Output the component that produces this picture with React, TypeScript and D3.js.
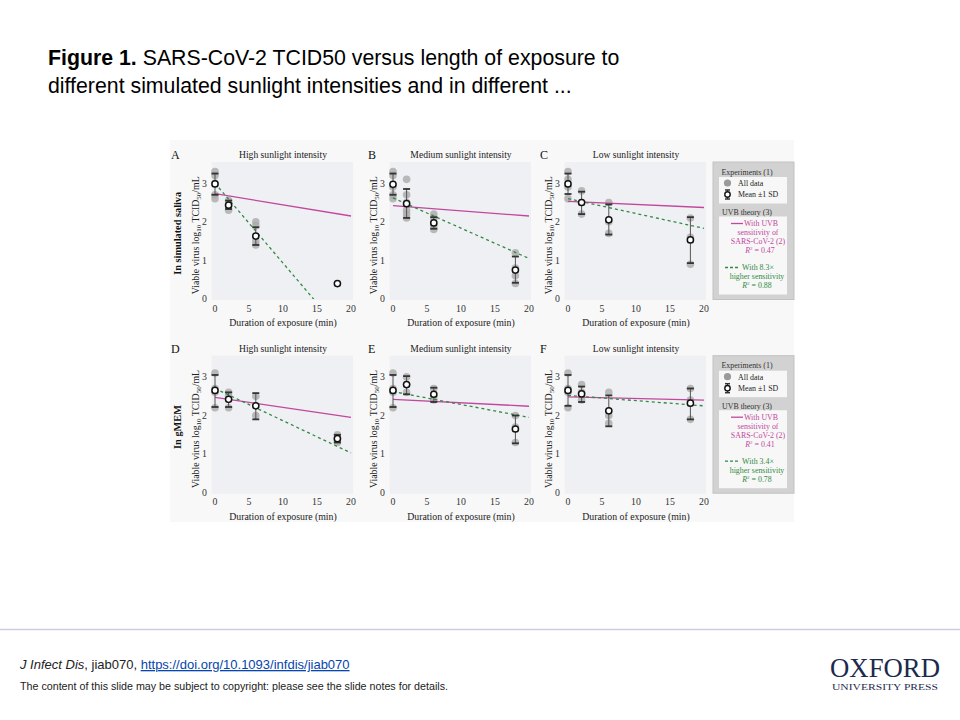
import React from 'react';
import * as d3 from 'd3';

// time points (min) and axis ticks
const timePoints = [0, 2, 6, 18];
const fitTimes = [0, 20];
const xTicks = [0, 5, 10, 15, 20];
const yTicks = [0, 1, 2, 3];

const panelLetters = ['A', 'B', 'C', 'D', 'E', 'F'];
const intensityTitles = ['High sunlight intensity', 'Medium sunlight intensity', 'Low sunlight intensity'];
const mediumLabels = ['In simulated saliva', 'In gMEM'];

// all data (log10 TCID50/mL), one list per time point
const salivaHighAll = [[3.3, 3.2, 3.0, 2.7, 2.6], [2.55, 2.45, 2.3], [2.0, 1.9, 1.5, 1.4], []];
const salivaMediumAll = [[3.3, 3.2, 2.9, 2.7, 2.6], [3.1, 2.7, 2.5, 2.3, 2.2, 2.1], [2.2, 2.1, 1.9, 1.8], [1.2, 0.8, 0.6, 0.4]];
const salivaLowAll = [[3.3, 3.1, 2.9, 2.6], [2.8, 2.5, 2.2], [2.5, 2.0, 1.7], [2.1, 1.6, 0.9]];
const gmemHighAll = [[3.1, 2.7, 2.6, 2.2], [2.6, 2.5, 2.2], [2.5, 2.0], [1.5, 1.4, 1.3]];
const gmemMediumAll = [[3.1, 2.7, 2.6, 2.2], [3.0, 2.8, 2.6], [2.7, 2.5, 2.4], [2.0, 1.7, 1.3]];
const gmemLowAll = [[3.1, 2.7, 2.6, 2.2], [2.8, 2.6, 2.4], [2.6, 2.0, 1.8], [2.7, 2.4, 1.9]];

// mean and mean -/+ 1 SD
const salivaHighMean = [2.98, 2.43, 1.63, 0.4];
const salivaHighLo = [2.7, 2.33, 1.4, 0.4];
const salivaHighHi = [3.25, 2.55, 1.86, 0.4];
const salivaMediumMean = [2.97, 2.47, 1.97, 0.75];
const salivaMediumLo = [2.7, 2.1, 1.82, 0.42];
const salivaMediumHi = [3.25, 2.85, 2.12, 1.1];
const salivaLowMean = [2.98, 2.5, 2.05, 1.53];
const salivaLowLo = [2.72, 2.2, 1.67, 0.93];
const salivaLowHi = [3.25, 2.78, 2.45, 2.12];
const gmemHighMean = [2.65, 2.42, 2.25, 1.4];
const gmemHighLo = [2.22, 2.22, 1.9, 1.3];
const gmemHighHi = [3.05, 2.6, 2.58, 1.5];
const gmemMediumMean = [2.65, 2.8, 2.55, 1.65];
const gmemMediumLo = [2.22, 2.55, 2.35, 1.28];
const gmemMediumHi = [3.05, 3.02, 2.72, 2.0];
const gmemLowMean = [2.65, 2.56, 2.12, 2.32];
const gmemLowLo = [2.25, 2.35, 1.72, 1.9];
const gmemLowHi = [3.05, 2.75, 2.52, 2.7];

// UVB theory lines, values at t = 0 and t = 20
const uvbFit = [[2.73, 2.15], [2.42, 2.15], [2.53, 2.37], [2.47, 1.95], [2.42, 2.24], [2.48, 2.4]];
const higherFit = [[3.0, -1.14], [2.62, 1.05], [2.6, 1.83], [2.7, 1.03], [2.62, 1.95], [2.52, 2.25]];

const uvbR2 = ['0.47', '0.41'];
const sensitivityFactor = ['8.3×', '3.4×'];
const higherR2 = ['0.88', '0.78'];

const panels = [
  { all: salivaHighAll, mean: salivaHighMean, lo: salivaHighLo, hi: salivaHighHi },
  { all: salivaMediumAll, mean: salivaMediumMean, lo: salivaMediumLo, hi: salivaMediumHi },
  { all: salivaLowAll, mean: salivaLowMean, lo: salivaLowLo, hi: salivaLowHi },
  { all: gmemHighAll, mean: gmemHighMean, lo: gmemHighLo, hi: gmemHighHi },
  { all: gmemMediumAll, mean: gmemMediumMean, lo: gmemMediumLo, hi: gmemMediumHi },
  { all: gmemLowAll, mean: gmemLowMean, lo: gmemLowLo, hi: gmemLowHi },
];

const colX0 = [215, 393, 568];
const letterX = [171, 368, 540];
const rowY0 = [299, 492.7];
const xSpan = 136;
const yUnit = 38.6;

const PINK = '#c2479e';
const GREEN = '#2f8a43';
const SERIF = '"Liberation Serif", "DejaVu Serif", serif';
const SANS = '"Liberation Sans", Arial, sans-serif';

const Panel = ({ i }: { i: number }) => {
  const col = i % 3;
  const row = Math.floor(i / 3);
  const x0 = colX0[col];
  const y0 = rowY0[row];
  const x = d3.scaleLinear().domain([0, 20]).range([x0, x0 + xSpan]);
  const y = d3.scaleLinear().domain([0, 3]).range([y0, y0 - 3 * yUnit]);
  const p = panels[i];
  const line = d3
    .line<number>()
    .x((d, k) => x(fitTimes[k]))
    .y(d => y(d));
  const clipId = `clip${i}`;
  const yMid = y(1.65);
  return (
    <g>
      <defs>
        <clipPath id={clipId}>
          <rect x={x(-0.5)} y={y(3.55)} width={x(20.3) - x(-0.5)} height={y(0) - y(3.55)} />
        </clipPath>
      </defs>
      <rect x={x(-0.5)} y={y(3.55)} width={x(20.3) - x(-0.5)} height={y(0) - y(3.55) + 1} fill="#eff0f3" />
      <text x={letterX[col]} y={y(3.55) - 2.5} fontFamily={SERIF} fontSize={12} fill="#111">
        {panelLetters[i]}
      </text>
      <text x={x(10)} y={y(3.55) - 3.5} fontFamily={SERIF} fontSize={9.6} textAnchor="middle" fill="#222">
        {intensityTitles[col]}
      </text>
      {yTicks.map(t => (
        <text key={t} x={x0 - 8} y={y(t) + 3.3} fontFamily={SERIF} fontSize={9.8} textAnchor="end" fill="#333">
          {t}
        </text>
      ))}
      {xTicks.map(t => (
        <text key={t} x={x(t)} y={y0 + 12.5} fontFamily={SERIF} fontSize={9.8} textAnchor="middle" fill="#333">
          {t}
        </text>
      ))}
      <text x={x(10)} y={y0 + 27} fontFamily={SERIF} fontSize={9.8} textAnchor="middle" fill="#222">
        Duration of exposure (min)
      </text>
      <text
        transform={`translate(${x0 - 16.5},${yMid}) rotate(-90)`}
        fontFamily={SERIF}
        fontSize={9.8}
        textAnchor="middle"
        fill="#222"
      >
        Viable virus log<tspan fontSize={7} dy={2}>10</tspan>
        <tspan dy={-2}> TCID</tspan>
        <tspan fontSize={7} dy={2}>50</tspan>
        <tspan dy={-2}>/mL</tspan>
      </text>
      {col === 0 && (
        <text
          transform={`translate(${x0 - 34},${yMid - 2}) rotate(-90)`}
          fontFamily={SERIF}
          fontSize={10.3}
          fontWeight="bold"
          textAnchor="middle"
          fill="#111"
        >
          {mediumLabels[row]}
        </text>
      )}
      <g>
        {p.all.map((vals, k) =>
          vals.map((v, j) => (
            <circle key={`${k}-${j}`} cx={x(timePoints[k])} cy={y(v)} r={3.8} fill="#aaaaaa" opacity={0.8} />
          ))
        )}
      </g>
      <g clipPath={`url(#${clipId})`}>
        <path d={line(uvbFit[i]) || ''} fill="none" stroke={PINK} strokeWidth={1.3} />
        <path d={line(higherFit[i]) || ''} fill="none" stroke={GREEN} strokeWidth={1.3} strokeDasharray="3,3" />
      </g>
      {timePoints.map((t, k) => {
        const cx = x(t);
        const lo = y(p.lo[k]);
        const hi = y(p.hi[k]);
        return (
          <g key={t}>
            {p.hi[k] - p.lo[k] > 0.05 && (
              <g stroke="#333">
                <line x1={cx} x2={cx} y1={lo} y2={hi} strokeWidth={1} stroke="#555" />
                <line x1={cx - 3.5} x2={cx + 3.5} y1={lo} y2={lo} strokeWidth={1.8} />
                <line x1={cx - 3.5} x2={cx + 3.5} y1={hi} y2={hi} strokeWidth={1.8} />
              </g>
            )}
            <circle cx={cx} cy={y(p.mean[k])} r={3.1} fill="#fff" stroke="#111" strokeWidth={1.5} />
          </g>
        );
      })}
    </g>
  );
};

const Legend = ({ row }: { row: number }) => {
  const top = rowY0[row] - 137;
  const left = 713;
  const cx = 757;
  return (
    <g fontFamily={SERIF} fontSize={7.9}>
      <rect x={left} y={top} width={81} height={137.5} fill="#d2d2d2" stroke="#c2c2c2" />
      <rect x={719} y={top + 15} width={68} height={26.5} fill="#f7f7f7" />
      <rect x={719} y={top + 54.5} width={68} height={78} fill="#f7f7f7" />
      <text x={747} y={top + 12.5} textAnchor="middle" fill="#333">Experiments (1)</text>
      <circle cx={727.5} cy={top + 21} r={3.6} fill="#9a9a9a" />
      <text x={738} y={top + 23.8} fill="#222">All data</text>
      <line x1={727.5} x2={727.5} y1={top + 28} y2={top + 37} stroke="#333" />
      <line x1={725} x2={730} y1={top + 28} y2={top + 28} stroke="#333" strokeWidth={1.5} />
      <line x1={725} x2={730} y1={top + 37} y2={top + 37} stroke="#333" strokeWidth={1.5} />
      <circle cx={727.5} cy={top + 32.5} r={2.7} fill="#fff" stroke="#111" strokeWidth={1.4} />
      <text x={738} y={top + 35.3} fill="#222">Mean ±1 SD</text>
      <text x={747} y={top + 53} textAnchor="middle" fill="#333">UVB theory (3)</text>
      <line x1={731} x2={743} y1={top + 61.5} y2={top + 61.5} stroke={PINK} strokeWidth={1.3} />
      <g fill={PINK} textAnchor="middle">
        <text x={761} y={top + 64.3}>With UVB</text>
        <text x={758} y={top + 73.3}>sensitivity of</text>
        <text x={758} y={top + 82.3}>SARS-CoV-2 (2)</text>
        <text x={760} y={top + 91.3}>
          <tspan fontStyle="italic">R</tspan>
          <tspan fontSize={5} dy={-3}>2</tspan>
          <tspan dy={3}> = {uvbR2[row]}</tspan>
        </text>
      </g>
      <line x1={725} x2={738} y1={top + 105.5} y2={top + 105.5} stroke={GREEN} strokeWidth={1.3} strokeDasharray="3,2" />
      <g fill={GREEN} textAnchor="middle">
        <text x={758} y={top + 108.3}>With {sensitivityFactor[row]}</text>
        <text x={cx} y={top + 117.3}>higher sensitivity</text>
        <text x={cx} y={top + 126.3}>
          <tspan fontStyle="italic">R</tspan>
          <tspan fontSize={5} dy={-3}>2</tspan>
          <tspan dy={3}> = {higherR2[row]}</tspan>
        </text>
      </g>
    </g>
  );
};

export default function App() {
  return (
    <svg width={960} height={720} style={{ position: 'absolute', left: 0, top: 0, background: '#fff' }}>
      <rect width={960} height={720} fill="#fff" />
      <text x={48} y={65} fontFamily={SANS} fontSize={21.3} fill="#000">
        <tspan fontWeight="bold">Figure 1.</tspan> SARS-CoV-2 TCID50 versus length of exposure to
      </text>
      <text x={48} y={93} fontFamily={SANS} fontSize={21.3} fill="#000">
        different simulated sunlight intensities and in different ...
      </text>
      <rect x={170} y={140} width={624} height={382} fill="#f8f8f8" />
      {panels.map((_, i) => (
        <Panel key={i} i={i} />
      ))}
      <Legend row={0} />
      <Legend row={1} />
      <line x1={0} x2={960} y1={629.5} y2={629.5} stroke="#d0cce0" strokeWidth={1.5} />
      <text x={20} y={669} fontFamily={SANS} fontSize={13} fill="#222">
        <tspan fontStyle="italic">J Infect Dis</tspan>, jiab070,{' '}
        <tspan fill="#0645ad" textDecoration="underline">https://doi.org/10.1093/infdis/jiab070</tspan>
      </text>
      <text x={20} y={690} fontFamily={SANS} fontSize={10} fill="#222" textLength={428} lengthAdjust="spacingAndGlyphs">
        The content of this slide may be subject to copyright: please see the slide notes for details.
      </text>
      <text x={830} y={677} fontFamily={SERIF} fontSize={27} fill="#1c2a4e" textLength={110} lengthAdjust="spacingAndGlyphs">
        OXFORD
      </text>
      <text x={832} y={690} fontFamily={SERIF} fontSize={9} fill="#1c2a4e" textLength={106} lengthAdjust="spacingAndGlyphs">
        UNIVERSITY PRESS
      </text>
    </svg>
  );
}
